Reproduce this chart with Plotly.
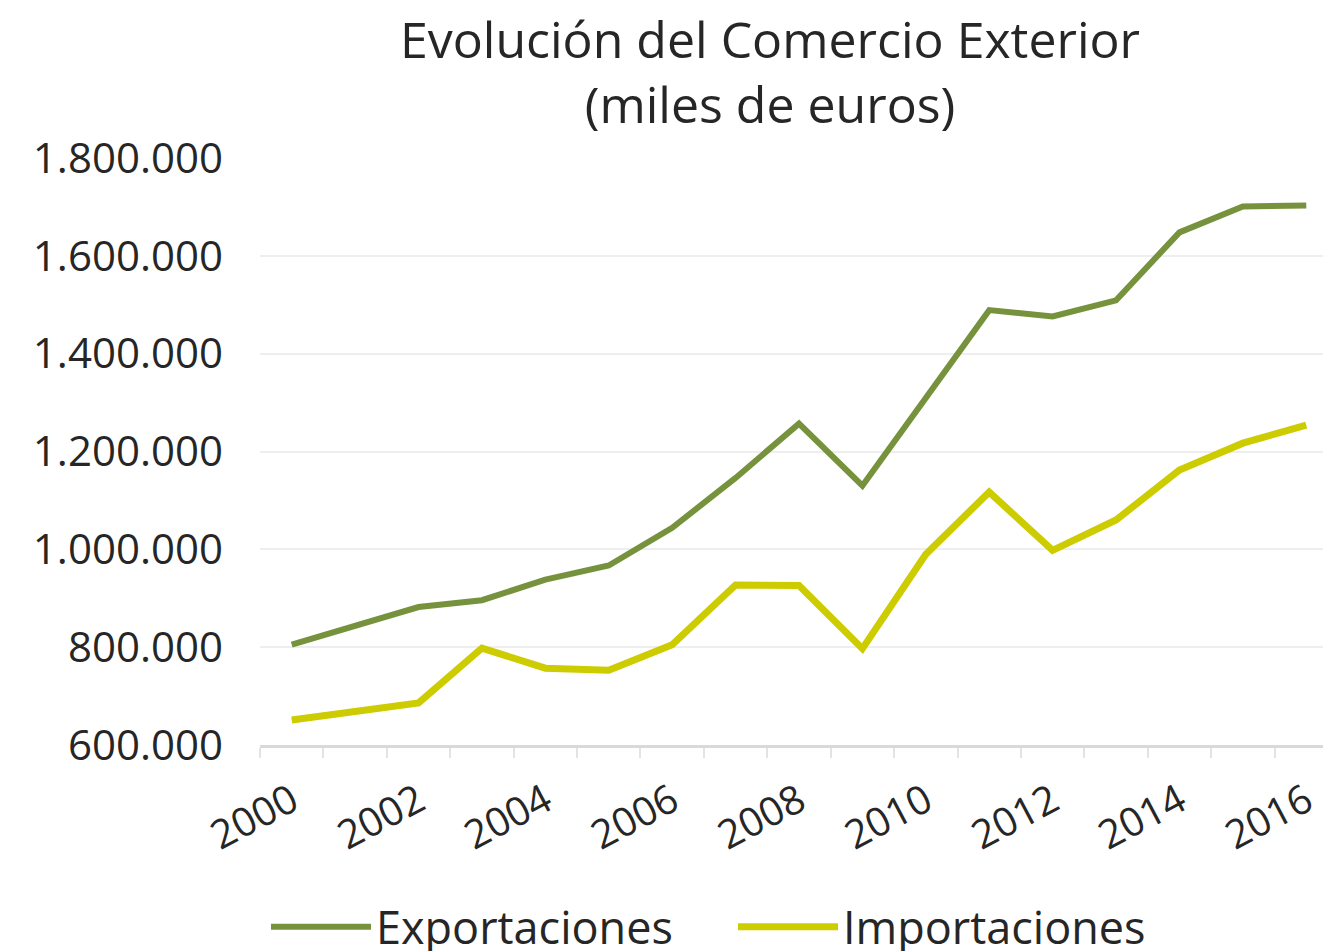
import plotly.graph_objects as go

years = list(range(2000, 2017))
exportaciones = [805000, 845000, 882000, 896000, 938000, 967000, 1044000, 1146000, 1257000,
                 1130000, 1308000, 1489000, 1476000, 1509000, 1648000, 1701000, 1703000]
importaciones = [651000, 667000, 686000, 798000, 757000, 753000, 805000, 927000, 926000,
                 797000, 990000, 1117000, 998000, 1060000, 1162000, 1217000, 1254000]
y_ticks = [600000, 800000, 1000000, 1200000, 1400000, 1600000, 1800000]
x_tick_years = list(range(2000, 2017, 2))

FONT = "Open Sans"
TXT = "#262626"
W, H = 1323, 943  # page body has an 8px margin

fig = go.Figure()
fig.add_trace(go.Scatter(x=years, y=exportaciones, mode="lines", name="Exportaciones",
                         line=dict(color="#76923C", width=6)))
fig.add_trace(go.Scatter(x=years, y=importaciones, mode="lines", name="Importaciones",
                         line=dict(color="#CCCC00", width=7)))

fig.update_layout(
    width=W, height=H,
    paper_bgcolor="white", plot_bgcolor="white",
    margin=dict(l=252, r=0, t=150, b=206, autoexpand=False),
    separators=",.",
    title=dict(text="Evolución del Comercio Exterior<br>(miles de euros)",
               x=762/W, xanchor="center", xref="container",
               y=1 - 50/H, yanchor="middle", yref="container",
               font=dict(family=FONT, size=50, color=TXT)),
    showlegend=True,
    legend=dict(orientation="h", x=725/W, xanchor="center", xref="container",
                y=-0.31, yanchor="middle", yref="paper",
                font=dict(family=FONT, size=45, color=TXT),
                itemwidth=100, entrywidth=352, tracegroupgap=0,
                bgcolor="rgba(0,0,0,0)"),
    xaxis=dict(range=[1999.5, 2016.39], showgrid=False, zeroline=False, automargin=False,
               showline=True, linecolor="#D9D9D9", linewidth=3,
               tickmode="array", tickvals=x_tick_years,
               ticktext=[str(v) for v in x_tick_years],
               ticks="", tickangle=-28, ticklabelstandoff=14,
               tickfont=dict(family=FONT, size=40, color=TXT),
               minor=dict(ticks="outside", tick0=1999.5, dtick=1, ticklen=10,
                          tickcolor="#E3E3E3", tickwidth=2, showgrid=False)),
    yaxis=dict(range=[600000, 1800000], tickmode="array", tickvals=y_ticks,
               tickformat=",d", showgrid=True, gridcolor="#EEEEEE", gridwidth=1.5,
               automargin=False,
               zeroline=False, showline=False, ticks="", ticklabelstandoff=36,
               tickfont=dict(family=FONT, size=42, color=TXT)),
)

fig.write_html("out.html")
